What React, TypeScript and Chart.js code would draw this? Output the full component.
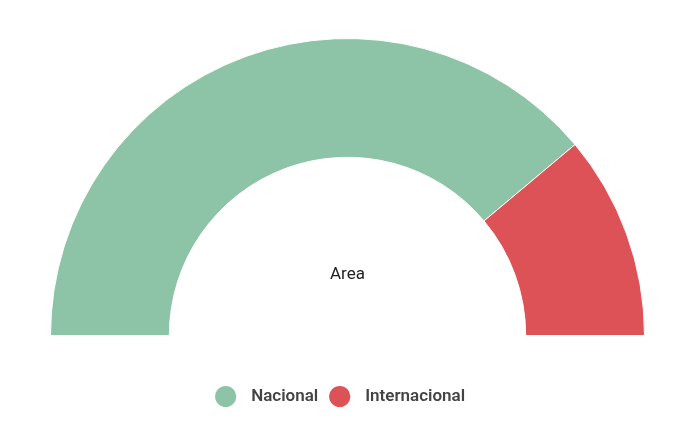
import React, { useEffect, useRef } from "react";
import { Chart, registerables } from "chart.js";

Chart.register(...registerables);

const categories: string[] = ["Nacional", "Internacional"];
const values: number[] = [7, 2];
const colors: string[] = ["#8DC4A7", "#DD5256"];
const centerLabel = "Area";

const centerTextPlugin = {
  id: "centerText",
  afterDatasetsDraw(chart: any) {
    const meta = chart.getDatasetMeta(0);
    const arc = meta.data[0];
    if (!arc) return;
    const { x, y, innerRadius } = arc.getProps(["x", "y", "innerRadius"], true);
    const ctx = chart.ctx;
    ctx.save();
    ctx.font = "400 17px Roboto, 'Noto Sans', sans-serif";
    ctx.fillStyle = "#222";
    ctx.textAlign = "center";
    ctx.textBaseline = "middle";
    ctx.fillText(centerLabel, x, y - innerRadius * 0.34);
    ctx.restore();
  },
};

export default function App() {
  const canvasRef = useRef<HTMLCanvasElement | null>(null);

  useEffect(() => {
    if (!canvasRef.current) return;
    const chart = new Chart(canvasRef.current, {
      type: "doughnut",
      data: {
        labels: categories,
        datasets: [
          {
            data: values,
            backgroundColor: colors,
            borderColor: "#ffffff",
            borderWidth: 1,
            hoverOffset: 0,
          },
        ],
      },
      options: {
        animation: false,
        responsive: true,
        maintainAspectRatio: false,
        rotation: -90,
        circumference: 180,
        cutout: "60%",
        radius: 297,
        layout: { padding: { top: 0, bottom: 7, left: 0, right: 5 } },
        plugins: {
          legend: {
            display: true,
            position: "bottom",
            title: {
              display: true,
              text: "",
              padding: 0,
              font: { size: 7.5, lineHeight: 1.2 },
            },
            labels: {
              usePointStyle: true,
              pointStyle: "circle",
              boxHeight: 15,
              padding: 13,
              color: "#444",
              font: { family: "Roboto, 'Noto Sans', sans-serif", size: 17, weight: "600" as any },
              generateLabels: (chart: any) => {
                const base = Chart.overrides.doughnut.plugins.legend.labels.generateLabels(chart);
                return base.map((item: any, i: number) => ({
                  ...item,
                  text: "  " + item.text + (i === base.length - 1 ? "   " : ""),
                  lineWidth: 0,
                  strokeStyle: "transparent",
                }));
              },
            },
          },
          tooltip: { enabled: false },
        },
      },
      plugins: [centerTextPlugin],
    });
    return () => chart.destroy();
  }, []);

  return (
    <div style={{ position: "relative", width: "100%", height: 414 }}>
      <canvas ref={canvasRef} />
    </div>
  );
}
